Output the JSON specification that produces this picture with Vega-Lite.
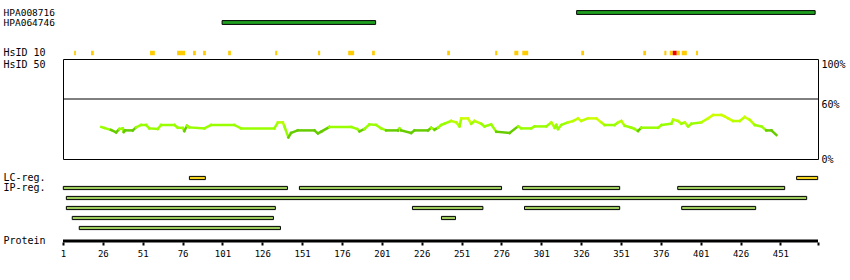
{
  "$schema": "https://vega.github.io/schema/vega-lite/v6.json",
  "background": "white",
  "padding": {"left": 2, "top": 7, "right": 2, "bottom": 2},
  "autosize": {"type": "pad"},
  "bounds": "flush",
  "spacing": 0,
  "config": {
    "view": {"stroke": null},
    "font": "DejaVu Sans Mono",
    "axis": {"labelFont": "DejaVu Sans Mono", "labelColor": "black", "labelFontSize": 10, "grid": false}
  },
  "vconcat": [
    {
      "width": 755,
      "height": 38.7,
      "data": {"values": [
        {"ab": "HPA008716", "s": 323.2, "e": 472.8},
        {"ab": "HPA064746", "s": 100.8, "e": 197.1}
      ]},
      "mark": {"type": "bar", "height": 3.8, "fill": "#1fa01f", "stroke": "black", "strokeWidth": 1},
      "encoding": {
        "x": {"field": "s", "type": "quantitative", "scale": {"domain": [1, 474.6], "nice": false, "zero": false}, "axis": null},
        "x2": {"field": "e"},
        "y": {"field": "ab", "type": "nominal", "scale": {"domain": ["HPA008716", "HPA064746"], "range": [-1.5, 18.5], "paddingInner": 0, "paddingOuter": 0},
          "axis": {"title": null, "labelAlign": "left", "labelPadding": 60, "ticks": false, "domain": false, "labelFontSize": 9.5}}
      }
    },
    {
      "width": 755,
      "height": 10.8,
      "data": {"values": [
        {"s": 8, "e": 9.1, "level": "hit"},
        {"s": 18.6, "e": 20.3, "level": "hit"},
        {"s": 55.6, "e": 58.6, "level": "hit"},
        {"s": 72.6, "e": 77.6, "level": "hit"},
        {"s": 82.6, "e": 84.3, "level": "hit"},
        {"s": 88.9, "e": 90.6, "level": "hit"},
        {"s": 104.6, "e": 106.3, "level": "hit"},
        {"s": 134.1, "e": 135.4, "level": "hit"},
        {"s": 161, "e": 162.3, "level": "hit"},
        {"s": 179.9, "e": 183.6, "level": "hit"},
        {"s": 194.9, "e": 196.6, "level": "hit"},
        {"s": 242, "e": 243.7, "level": "hit"},
        {"s": 272.1, "e": 273.4, "level": "hit"},
        {"s": 284.1, "e": 286.6, "level": "hit"},
        {"s": 289.1, "e": 292.8, "level": "hit"},
        {"s": 326.1, "e": 327.8, "level": "hit"},
        {"s": 365, "e": 366.7, "level": "hit"},
        {"s": 378.2, "e": 379.5, "level": "hit"},
        {"s": 381.6, "e": 383.5, "level": "hit"},
        {"s": 383.5, "e": 386, "level": "max"},
        {"s": 386, "e": 387.9, "level": "hit"},
        {"s": 389.1, "e": 392.3, "level": "hit"},
        {"s": 398.1, "e": 399.3, "level": "hit"}
      ]},
      "mark": {"type": "bar", "height": 4.5},
      "encoding": {
        "x": {"field": "s", "type": "quantitative", "scale": {"domain": [1, 474.6], "nice": false, "zero": false}, "axis": null},
        "x2": {"field": "e"},
        "y": {"datum": "HsID 10", "type": "nominal", "scale": {"domain": ["HsID 10"], "range": [0, 10]},
          "axis": {"title": null, "labelAlign": "left", "labelPadding": 60, "ticks": false, "domain": false}},
        "color": {"field": "level", "type": "nominal", "scale": {"domain": ["hit", "max"], "range": ["#ffcc00", "#ee0000"]}, "legend": null}
      }
    },
    {
      "width": 755,
      "height": 100,
      "view": {"stroke": "black", "strokeWidth": 1},
      "resolve": {"axis": {"y": "independent"}},
      "layer": [
        {
          "data": {"values": [{"y": 60}]},
          "mark": {"type": "rule", "color": "black", "strokeWidth": 1},
          "encoding": {
            "y": {"field": "y", "type": "quantitative", "scale": {"domain": [0, 100], "nice": false, "zero": true},
              "axis": {"orient": "left", "title": null, "values": [100], "labelExpr": "'HsID 50'", "labelAlign": "left", "labelBaseline": "top", "labelPadding": 60, "ticks": false, "domain": false, "grid": false}}
          }
        },
        {
          "data": {"values": [
            {"p": 25, "v": 32}, {"p": 26.9, "v": 31}, {"p": 31.1, "v": 29}, {"p": 34.3, "v": 26.6}, {"p": 36.3, "v": 30},
            {"p": 38.5, "v": 30.6}, {"p": 39.1, "v": 27}, {"p": 39.9, "v": 28.6}, {"p": 44.7, "v": 28.6}, {"p": 46.8, "v": 31.6},
            {"p": 50, "v": 34}, {"p": 53.1, "v": 34}, {"p": 55.2, "v": 30.6}, {"p": 60.4, "v": 30}, {"p": 62.5, "v": 34},
            {"p": 70.9, "v": 34}, {"p": 73, "v": 31.3}, {"p": 76.1, "v": 31}, {"p": 77.1, "v": 28}, {"p": 78.8, "v": 33.3},
            {"p": 80.3, "v": 31.6}, {"p": 89.7, "v": 30.6}, {"p": 93.9, "v": 34}, {"p": 108.5, "v": 34}, {"p": 112.7, "v": 30.6},
            {"p": 133.6, "v": 30.6}, {"p": 135.8, "v": 36.6}, {"p": 138.9, "v": 36.6}, {"p": 139.9, "v": 32.6}, {"p": 142.4, "v": 21.6},
            {"p": 144.1, "v": 26}, {"p": 148.3, "v": 28.6}, {"p": 158.7, "v": 28.6}, {"p": 160.9, "v": 25.6}, {"p": 162.9, "v": 27.3},
            {"p": 168.1, "v": 32}, {"p": 181.8, "v": 32}, {"p": 185.5, "v": 30}, {"p": 187, "v": 27.6}, {"p": 190.1, "v": 30},
            {"p": 193.2, "v": 34.6}, {"p": 197.4, "v": 34}, {"p": 200.6, "v": 30.6}, {"p": 203.7, "v": 28.6}, {"p": 211.1, "v": 28.6},
            {"p": 212.1, "v": 30.6}, {"p": 213.1, "v": 28.6}, {"p": 219.4, "v": 26}, {"p": 221.5, "v": 28.6}, {"p": 229.9, "v": 28.6},
            {"p": 232, "v": 31.3}, {"p": 234, "v": 29.3}, {"p": 236.2, "v": 31.3}, {"p": 238.2, "v": 34}, {"p": 240.3, "v": 35.3},
            {"p": 244.5, "v": 38}, {"p": 247.7, "v": 36.6}, {"p": 249.7, "v": 32.6}, {"p": 250.8, "v": 40.6}, {"p": 255, "v": 40.6},
            {"p": 257.1, "v": 35.3}, {"p": 259.1, "v": 38}, {"p": 263.3, "v": 35.3}, {"p": 265.4, "v": 32.6}, {"p": 269.6, "v": 34.6},
            {"p": 272.8, "v": 27.3}, {"p": 281.1, "v": 26}, {"p": 286.4, "v": 32.6}, {"p": 288.5, "v": 30.6}, {"p": 294.7, "v": 30.6},
            {"p": 296.8, "v": 32.6}, {"p": 304.1, "v": 32.6}, {"p": 307.3, "v": 36.6}, {"p": 309.4, "v": 31.3}, {"p": 310.4, "v": 34},
            {"p": 311.5, "v": 30}, {"p": 313.6, "v": 34}, {"p": 317.8, "v": 36.6}, {"p": 320.9, "v": 38}, {"p": 324, "v": 40.6},
            {"p": 326.1, "v": 38}, {"p": 330.3, "v": 40.6}, {"p": 335.5, "v": 40.6}, {"p": 338.7, "v": 36.6}, {"p": 340.7, "v": 34},
            {"p": 347, "v": 34}, {"p": 349.2, "v": 36.6}, {"p": 351.2, "v": 38}, {"p": 353.3, "v": 33.3}, {"p": 357.5, "v": 31.3},
            {"p": 359.6, "v": 30}, {"p": 361.7, "v": 28}, {"p": 363.8, "v": 31.3}, {"p": 374.3, "v": 31.3}, {"p": 376.4, "v": 34},
            {"p": 382.6, "v": 35.3}, {"p": 383.7, "v": 39.3}, {"p": 386.8, "v": 38}, {"p": 388.9, "v": 35.3}, {"p": 391, "v": 36.6},
            {"p": 393.1, "v": 32.6}, {"p": 395.2, "v": 35.3}, {"p": 401.4, "v": 36.6}, {"p": 405.6, "v": 40.6}, {"p": 408.8, "v": 44},
            {"p": 414, "v": 44}, {"p": 416, "v": 42.6}, {"p": 418.2, "v": 40.6}, {"p": 421.3, "v": 38}, {"p": 425.5, "v": 38},
            {"p": 428.6, "v": 42}, {"p": 431.7, "v": 39.3}, {"p": 434.9, "v": 34}, {"p": 439.1, "v": 32.6}, {"p": 442.2, "v": 28.6},
            {"p": 445.4, "v": 28.6}, {"p": 448.5, "v": 24}
          ]},
          "transform": [
            {"window": [{"op": "lead", "field": "p", "as": "p2"}, {"op": "lead", "field": "v", "as": "v2"}], "sort": [{"field": "p", "order": "ascending"}]},
            {"filter": "datum.p2 != null"}
          ],
          "mark": {"type": "rule", "strokeWidth": 2.5, "strokeCap": "square"},
          "encoding": {
            "x": {"field": "p", "type": "quantitative", "scale": {"domain": [1, 474.6], "nice": false, "zero": false}, "axis": null},
            "x2": {"field": "p2"},
            "y": {"field": "v", "type": "quantitative", "scale": {"domain": [0, 100], "nice": false, "zero": true},
              "axis": {"orient": "right", "title": null, "values": [0, 60, 100], "labelExpr": "datum.value + '%'", "labelPadding": 3, "ticks": false, "domain": false, "grid": false, "labelFlush": false, "labelOverlap": false,
                "labelBaseline": {"condition": {"test": "datum.value == 0", "value": "middle"}, "value": "top"}}},
            "y2": {"field": "v2"},
            "color": {"field": "v", "type": "quantitative", "scale": {"type": "threshold", "domain": [29.5, 36, 39.5], "range": ["#66cc00", "#99ff00", "#b8ff00", "#ccff00"]}, "legend": null}
          }
        }
      ]
    },
    {
      "width": 755,
      "height": 80.7,
      "data": {"values": [
        {"track": "LC", "kind": "LC-reg.", "s": 80.3, "e": 90.3},
        {"track": "LC", "kind": "LC-reg.", "s": 461.2, "e": 474.4},
        {"track": "IP1", "kind": "IP-reg.", "s": 1.2, "e": 141.8},
        {"track": "IP1", "kind": "IP-reg.", "s": 149.3, "e": 276.1},
        {"track": "IP1", "kind": "IP-reg.", "s": 289.3, "e": 350.2},
        {"track": "IP1", "kind": "IP-reg.", "s": 386.6, "e": 453.7},
        {"track": "IP2", "kind": "IP-reg.", "s": 3.1, "e": 467.5},
        {"track": "IP3", "kind": "IP-reg.", "s": 3.1, "e": 134.2},
        {"track": "IP3", "kind": "IP-reg.", "s": 220.2, "e": 264.4},
        {"track": "IP3", "kind": "IP-reg.", "s": 290.5, "e": 350.2},
        {"track": "IP3", "kind": "IP-reg.", "s": 389.1, "e": 435.5},
        {"track": "IP4", "kind": "IP-reg.", "s": 6.8, "e": 133},
        {"track": "IP4", "kind": "IP-reg.", "s": 238.4, "e": 247.2},
        {"track": "IP5", "kind": "IP-reg.", "s": 11.2, "e": 137.4}
      ]},
      "mark": {"type": "bar", "height": 3.2, "stroke": "black", "strokeWidth": 1},
      "encoding": {
        "x": {"field": "s", "type": "quantitative", "scale": {"domain": [1, 474.6], "nice": false, "zero": false}, "axis": null},
        "x2": {"field": "e"},
        "y": {"field": "track", "type": "nominal", "scale": {"domain": ["LC", "IP1", "IP2", "IP3", "IP4", "IP5"], "range": [14, 74]},
          "axis": {"title": null, "labelExpr": "datum.value == 'LC' ? 'LC-reg.' : (datum.value == 'IP1' ? 'IP-reg.' : '')", "labelAlign": "left", "labelPadding": 60, "ticks": false, "domain": false}},
        "color": {"field": "kind", "type": "nominal", "scale": {"domain": ["LC-reg.", "IP-reg."], "range": ["#f2d41e", "#9dcc5c"]}, "legend": null}
      }
    },
    {
      "width": 755,
      "height": 2,
      "data": {"values": [{"row": "Protein", "s": 1, "e": 474.6}]},
      "mark": {"type": "rule", "strokeWidth": 3, "color": "black"},
      "encoding": {
        "x": {"field": "s", "type": "quantitative", "scale": {"domain": [1, 474.6], "nice": false, "zero": false},
          "axis": {"orient": "bottom", "title": null, "values": [1, 26, 51, 76, 101, 126, 151, 176, 201, 226, 251, 276, 301, 326, 351, 376, 401, 426, 451, 474.6],
            "labelExpr": "datum.value > 460 ? '' : '' + datum.value", "domain": false, "ticks": true, "tickSize": 3, "tickWidth": 2, "tickColor": "black",
            "labelFontSize": 9, "labelPadding": 4, "labelFlush": false, "labelOverlap": false, "grid": false}},
        "x2": {"field": "e"},
        "y": {"field": "row", "type": "nominal", "scale": {"domain": ["Protein"], "range": [0, 2]},
          "axis": {"title": null, "labelAlign": "left", "labelPadding": 60, "ticks": false, "domain": false}}
      }
    }
  ]
}
